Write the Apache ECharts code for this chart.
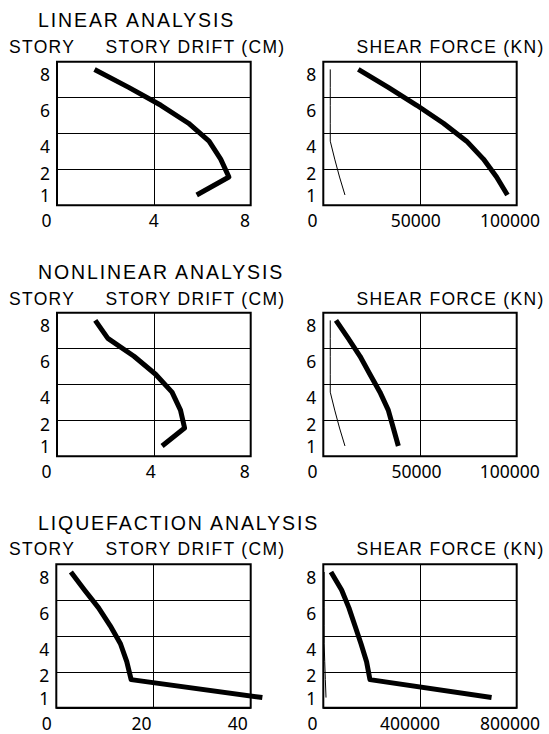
<!DOCTYPE html>
<html>
<head>
<meta charset="utf-8">
<script src="https://cdn.jsdelivr.net/npm/echarts@6/dist/echarts.min.js"></script>
<style>
  html, body { margin: 0; padding: 0; background: #fff; }
  #chart { width: 549px; height: 734px; }
  /* headings are wider-spaced in the original drawing */
  #chart text[style*="Liberation"] { letter-spacing: 1.3px; }
  #chart text[style*="Arial"] { letter-spacing: 1.9px; }
</style>
</head>
<body>
<div id="chart"></div>
<script>
// stories, top to bottom
var stories = [8, 7, 6, 5, 4, 3, 2, 1];
var storyTicks = [1, 2, 4, 6, 8];

// story drift (cm)
var linearDrift       = [1.55, 2.96, 4.29, 5.43, 6.28, 6.76, 7.1, 5.77];
var nonlinearDrift    = [1.58, 2.1, 3.18, 4.07, 4.75, 5.1, 5.27, 4.34];
var liquefactionDrift = [3.0, 5.8, 8.7, 11.1, 13.2, 14.5, 15.4, 42.4];

// shear force (kN)
var linearShear       = [18100, 33600, 48300, 62100, 74100, 82800, 89600, 95200];
var nonlinearShear    = [6550, 12900, 19000, 24100, 29300, 33600, 36200, 38800];
var liquefactionShear = [31700, 75800, 106000, 131000, 156000, 179000, 193000, 696000];
// thin reference line in every shear panel
var baseShear         = [3600, 3600, 3600, 3600, 3600, 5900, 8400, 11200];

var rowTitles = ['LINEAR ANALYSIS', 'NONLINEAR ANALYSIS', 'LIQUEFACTION ANALYSIS'];
var driftMax = [8, 8, 40];
var shearMax = [100000, 100000, 800000];

var rowDrift = [linearDrift, nonlinearDrift, liquefactionDrift];
var rowShear = [linearShear, nonlinearShear, liquefactionShear];

// layout
var boxTop = [61.7, 312.7, 564.3];
var titleTop = [10.3, 262, 512.8];
var headTop = [38.3, 290, 540];
var boxH = 143.5;
// x label nudges [min, mid, max] per panel, as placed in the source drawing
var driftShift = [[-10.5, 0, -5.7], [-10.5, -3, -6], [-9.6, -12, -13]];
var shearShift = [[-10.8, -4.2, -6.7], [-10.8, -3.5, -7], [-10.8, -10, -6.7]];

var HEAD = {fontFamily: 'Liberation Sans', fontSize: 17.5, fontWeight: 'normal', color: '#000'};
var TITLE = {fontFamily: 'Liberation Sans, Arial', fontSize: 19.5, fontWeight: 'normal', color: '#000'};
var TICK = {fontFamily: 'Noto Sans', fontSize: 17.5, color: '#000'};

function pairs(xs) {
    return xs.map(function (v, i) { return [v, stories[i]]; });
}

function tickStyle(extra) {
    return Object.assign({}, TICK, extra);
}

function xAxisFor(gi, max, shift) {
    return {
        type: 'value', gridIndex: gi, min: 0, max: max, interval: max / 2,
        axisLine: {show: false}, axisTick: {show: false},
        splitLine: {show: true, lineStyle: {color: '#000', width: 1}},
        axisLabel: {
            margin: 6,
            formatter: function (v) {
                var k = v === 0 ? 'lo' : (v === max ? 'hi' : 'md');
                return '{' + k + '|' + v + '}';
            },
            rich: {
                lo: tickStyle({padding: [0, -2 * shift[0], 0, 0]}),
                md: tickStyle({padding: [0, -2 * shift[1], 0, 0]}),
                hi: tickStyle({padding: [0, -2 * shift[2], 0, 0]})
            }
        }
    };
}

function yAxisFor(gi) {
    return {
        type: 'value', gridIndex: gi, min: 0.43, max: 8.43, interval: 2,
        axisLine: {show: false}, axisTick: {show: false},
        splitLine: {show: true, lineStyle: {color: '#000', width: 1}},
        axisLabel: {
            margin: 7,
            customValues: storyTicks,
            formatter: function (v) {
                var k = v >= 4 ? 'dn' : (v === 2 ? 'up' : 'n');
                return '{' + k + '|' + v + '}';
            },
            rich: {
                dn: tickStyle({padding: [10, 0, 0, 0]}),
                up: tickStyle({padding: [0, 0, 9, 0]}),
                n: tickStyle({})
            }
        }
    };
}

// polyline through all points, drawn with the grid's scales; custom series is not clipped,
// so the liquefaction drift can run past the frame like in the source
function thickLine(gi, values) {
    var pts = pairs(values);
    return {
        type: 'custom', xAxisIndex: gi, yAxisIndex: gi, data: pts, z: 3,
        renderItem: function (params, api) {
            if (params.dataIndex !== 0) return null;
            return {
                type: 'polyline',
                shape: {points: pts.map(function (p) { return api.coord(p); })},
                style: {stroke: '#000', lineWidth: 5, fill: null, lineJoin: 'round'}
            };
        }
    };
}

var titles = [], grids = [], xAxes = [], yAxes = [], series = [];

rowTitles.forEach(function (t, r) {
    titles.push({text: t, left: 38, top: titleTop[r], padding: 0, textStyle: TITLE});
    titles.push({text: 'STORY', left: 9, top: headTop[r], padding: 0, textStyle: HEAD});
    titles.push({text: 'STORY DRIFT (CM)', left: 105.5, top: headTop[r], padding: 0, textStyle: HEAD});
    titles.push({text: 'SHEAR FORCE (KN)', left: 356.5, top: headTop[r], padding: 0, textStyle: HEAD});

    var gl = r * 2, gr = r * 2 + 1;
    grids.push({left: r === 2 ? 56.3 : 57, width: r === 2 ? 194.4 : 193.7, top: boxTop[r], height: boxH,
        show: true, borderColor: '#000', borderWidth: 2});
    grids.push({left: 323.3, width: 193.4, top: boxTop[r], height: boxH,
        show: true, borderColor: '#000', borderWidth: 2});

    xAxes.push(xAxisFor(gl, driftMax[r], driftShift[r]));
    xAxes.push(xAxisFor(gr, shearMax[r], shearShift[r]));
    yAxes.push(yAxisFor(gl));
    yAxes.push(yAxisFor(gr));

    series.push(thickLine(gl, rowDrift[r]));
    series.push({
        type: 'line', xAxisIndex: gr, yAxisIndex: gr, data: pairs(baseShear),
        symbol: 'none',
        lineStyle: {color: '#000', width: 1}
    });
    series.push(thickLine(gr, rowShear[r]));
});

var chart = echarts.init(document.getElementById('chart'), null, {renderer: 'svg'});
chart.setOption({
    backgroundColor: '#fff',
    animation: false,
    title: titles,
    grid: grids,
    xAxis: xAxes,
    yAxis: yAxes,
    series: series
});
</script>
</body>
</html>
